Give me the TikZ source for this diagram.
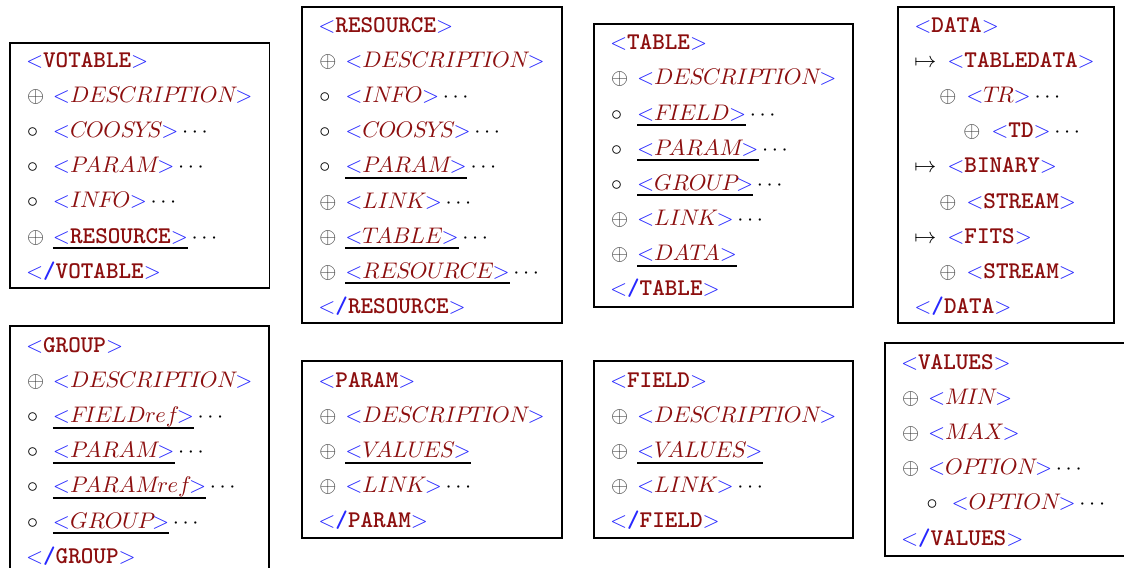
\documentclass[tikz,border=0pt]{standalone}
\usetikzlibrary{fit}
\definecolor{tagblue}{RGB}{40,40,255}
\definecolor{tagred}{RGB}{140,15,15}
\definecolor{opgray}{RGB}{60,60,60}
\newlength\pxu \setlength\pxu{0.4545pt}
\font\mitf=cmmi10 at 10.25pt
\newcommand\ttb{\fontsize{10.9}{12}\ttfamily\bfseries}
\newcommand\Lt{\textcolor{tagblue}{$<$}}
\newcommand\Gt{\textcolor{tagblue}{$>$}}
\newcommand\Tt[1]{\Lt\textcolor{tagred}{\ttb #1}\Gt}
\newcommand\Ti[1]{\Lt\textcolor{tagred}{\mitf #1}\Gt}
\newcommand\Tc[1]{\Lt\textcolor{tagblue}{\ttb /}\textcolor{tagred}{\ttb #1}\Gt}
\newcommand\dd{\,$\cdots$}
\newcommand\Ul[1]{\setbox0\hbox{#1}\rlap{\rule[-2.7pt]{\wd0}{0.9pt}}\box0}
\newcommand\Op{\textcolor{opgray}{$\oplus$}}
\newcommand\Ci{$\circ$}
\newcommand\Mt{$\mapsto$}
\newcommand\Ln[4]{\makebox[0pt][l]{\hspace*{#1\pxu}#2}\hspace*{#3\pxu}#4\par}
\newcommand\Hd[1]{\hspace*{16\pxu}#1\par}
\newcommand\Lines[1]{\parbox[t]{300\pxu}{\setlength\parindent{0pt}\setlength\parskip{0pt}\setlength\baselineskip{35.15\pxu}\setlength\lineskiplimit{-100pt}\setlength\lineskip{0pt}#1}}
\begin{document}
\begin{tikzpicture}[x=0.4545pt,y=-0.4545pt,
  box/.style={draw, line width=0.9pt, inner sep=0pt, outer sep=0pt},
  txt/.style={anchor=base west, inner sep=0pt, outer sep=0pt}]
\useasboundingbox (0,0) rectangle (1124,567);
\clip (0,0) rectangle (1124,567);
% boxes
\node[box, fit={(10,42.7) (269.5,288.3)}] (votable) {};
\node[box, fit={(302.3,6.7) (562.3,323.3)}] (resource) {};
\node[box, fit={(594,24.3) (853.3,307.3)}] (table) {};
\node[box, fit={(898.3,7.3) (1114.3,323.3)}] (data) {};
\node[box, fit={(10,326) (269.3,574)}] (group) {};
\node[box, fit={(302.3,361) (561.7,538.3)}] (param) {};
\node[box, fit={(594,361) (853.3,538.3)}] (field) {};
\node[box, fit={(885,343.3) (1140,555.7)}] (values) {};
% texts
\node[txt] (votable-t) at (10,67.3) {\Lines{%
\Hd{\Tt{VOTABLE}}
\Ln{17}{\Op}{43}{\Ti{DESCRIPTION}}
\Ln{17}{\Ci}{43}{\Ti{COOSYS}\dd}
\Ln{17}{\Ci}{43}{\Ti{PARAM}\dd}
\Ln{17}{\Ci}{43}{\Ti{INFO}\dd}
\Ln{17}{\Op}{43}{\Ul{\Tt{RESOURCE}}\dd}
\Hd{\Tc{VOTABLE}}}};
\node[txt] (resource-t) at (302.3,32.3) {\Lines{%
\Hd{\Tt{RESOURCE}}
\Ln{17}{\Op}{43}{\Ti{DESCRIPTION}}
\Ln{17}{\Ci}{43}{\Ti{INFO}\dd}
\Ln{17}{\Ci}{43}{\Ti{COOSYS}\dd}
\Ln{17}{\Ci}{43}{\Ul{\Ti{PARAM}}\dd}
\Ln{17}{\Op}{43}{\Ti{LINK}\dd}
\Ln{17}{\Op}{43}{\Ul{\Ti{TABLE}}\dd}
\Ln{17}{\Op}{43}{\Ul{\Ti{RESOURCE}}\dd}
\Hd{\Tc{RESOURCE}}}};
\node[txt] (table-t) at (594,49.7) {\Lines{%
\Hd{\Tt{TABLE}}
\Ln{17}{\Op}{43}{\Ti{DESCRIPTION}}
\Ln{17}{\Ci}{43}{\Ul{\Ti{FIELD}}\dd}
\Ln{17}{\Ci}{43}{\Ul{\Ti{PARAM}}\dd}
\Ln{17}{\Ci}{43}{\Ul{\Ti{GROUP}}\dd}
\Ln{17}{\Op}{43}{\Ti{LINK}\dd}
\Ln{17}{\Op}{43}{\Ul{\Ti{DATA}}}
\Hd{\Tc{TABLE}}}};
\node[txt] (data-t) at (898.3,32.3) {\Lines{%
\Hd{\Tt{DATA}}
\Ln{16}{\Mt}{49}{\Tt{TABLEDATA}}
\Ln{41}{\Op}{68}{\Ti{TR}\dd}
\Ln{65}{\Op}{93}{\Tt{TD}\dd}
\Ln{16}{\Mt}{49}{\Tt{BINARY}}
\Ln{41}{\Op}{68}{\Tt{STREAM}}
\Ln{16}{\Mt}{49}{\Tt{FITS}}
\Ln{41}{\Op}{68}{\Tt{STREAM}}
\Hd{\Tc{DATA}}}};
\node[txt] (group-t) at (10,352.3) {\Lines{%
\Hd{\Tt{GROUP}}
\Ln{17}{\Op}{43}{\Ti{DESCRIPTION}}
\Ln{17}{\Ci}{43}{\Ul{\Ti{FIELDref}}\dd}
\Ln{17}{\Ci}{43}{\Ul{\Ti{PARAM}}\dd}
\Ln{17}{\Ci}{43}{\Ul{\Ti{PARAMref}}\dd}
\Ln{17}{\Ci}{43}{\Ul{\Ti{GROUP}}\dd}
\Hd{\Tc{GROUP}}}};
\node[txt] (param-t) at (302.3,387.3) {\Lines{%
\Hd{\Tt{PARAM}}
\Ln{17}{\Op}{43}{\Ti{DESCRIPTION}}
\Ln{17}{\Op}{43}{\Ul{\Ti{VALUES}}}
\Ln{17}{\Op}{43}{\Ti{LINK}\dd}
\Hd{\Tc{PARAM}}}};
\node[txt] (field-t) at (594,387.3) {\Lines{%
\Hd{\Tt{FIELD}}
\Ln{17}{\Op}{43}{\Ti{DESCRIPTION}}
\Ln{17}{\Op}{43}{\Ul{\Ti{VALUES}}}
\Ln{17}{\Op}{43}{\Ti{LINK}\dd}
\Hd{\Tc{FIELD}}}};
\node[txt] (values-t) at (885,369.3) {\Lines{%
\Hd{\Tt{VALUES}}
\Ln{17}{\Op}{43}{\Ti{MIN}}
\Ln{17}{\Op}{43}{\Ti{MAX}}
\Ln{17}{\Op}{43}{\Ti{OPTION}\dd}
\Ln{41.5}{\Ci}{66.5}{\Ti{OPTION}\dd}
\Hd{\Tc{VALUES}}}};
\end{tikzpicture}
\end{document}
